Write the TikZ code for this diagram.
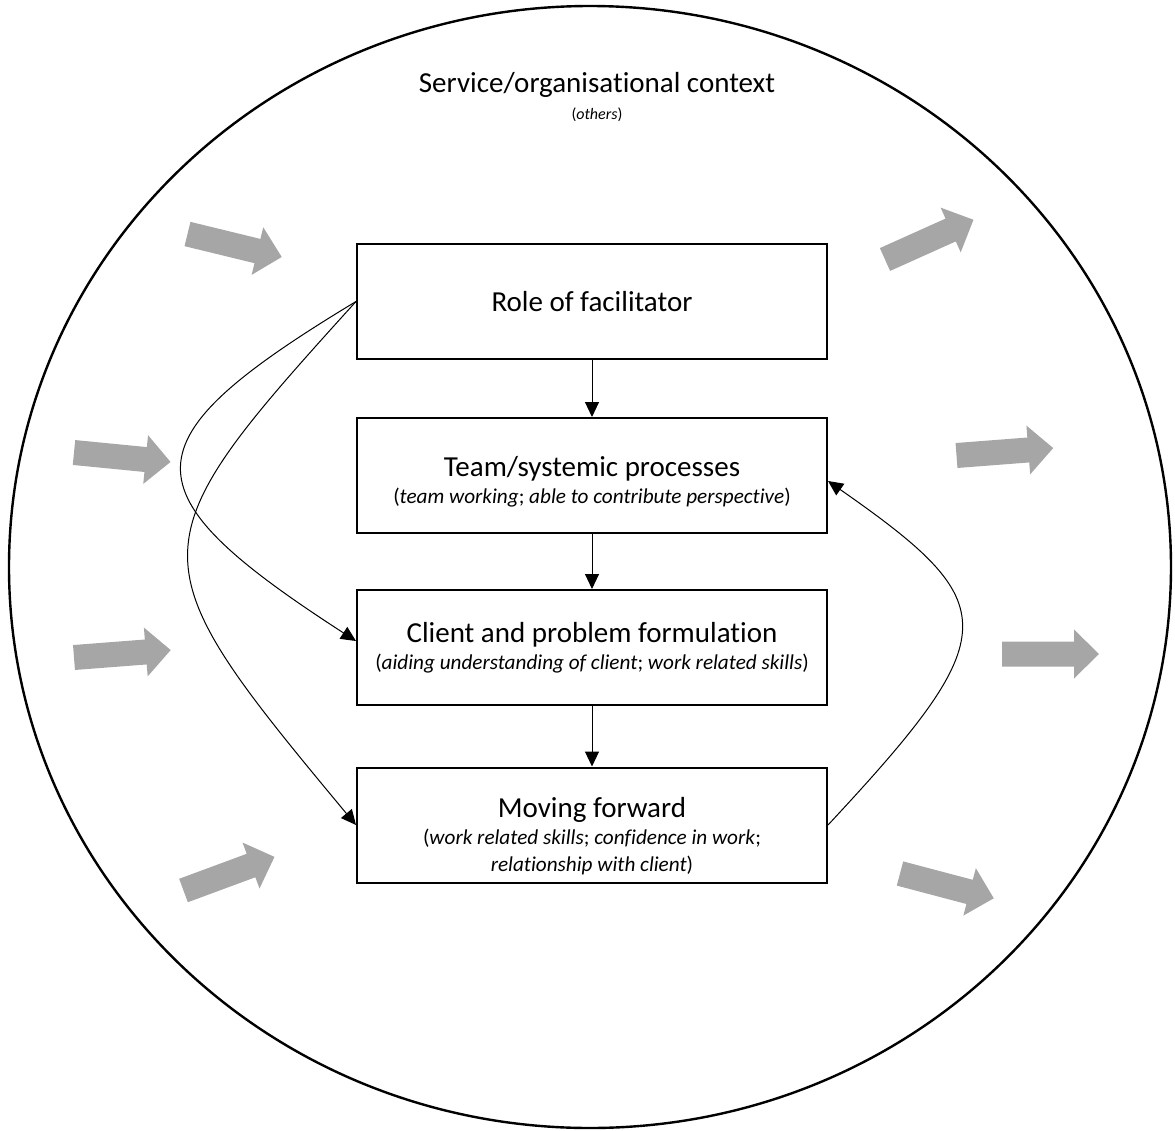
\documentclass[tikz,border=0pt]{standalone}
\usepackage{fontspec}
\setmainfont{Carlito}[Ligatures=NoCommon]
\usetikzlibrary{arrows.meta,calc}

\definecolor{arrowgray}{HTML}{A6A6A6}
\newcommand{\stagetitle}[1]{{\fontsize{14.5}{17}\selectfont #1}}

\tikzset{
  stage/.style={draw, line width=1pt, minimum width=235pt, minimum height=57.5pt,
    align=center, inner sep=2pt, font=\fontsize{10.6}{13.5}\selectfont},
  link/.style={-{Triangle[length=7.5pt,width=7pt]}, line width=0.5pt},
  blockarrow/.pic={\fill [arrowgray] (0,-12.5) -- (72,-12.5) -- (72,-24.5) -- (97,0)
    -- (72,24.5) -- (72,12.5) -- (0,12.5) -- cycle;}
}

\begin{document}
\begin{tikzpicture}[x=0.5pt, y=-0.5pt]
\useasboundingbox (0,0) rectangle (1175,1131);
\draw [line width=1.2pt] (590,567) ellipse [x radius=581, y radius=561];
\node (context) at (597,85) {\stagetitle{Service/organisational context}};
\node (others) at (597,115) {\fontsize{8}{10}\selectfont (\textit{others})};
% stages
\node [stage] (role) at (592,301.5) {\stagetitle{Role of facilitator}};
\node [stage] (team) at (592,475.5) {\stagetitle{\rule{0pt}{16pt}Team/systemic processes}\\
  (\textit{team working}; \textit{able to contribute perspective})};
\node [stage] (client) at (592,647.5) {\stagetitle{Client and problem formulation}\\
  (\textit{aiding understanding of client}; \textit{work related skills})};
\node [stage] (moving) at (592,825) {\stagetitle{\rule{0pt}{21pt}Moving forward}\\
  (\textit{work related skills}; \textit{confidence in work};\\
  \textit{relationship with client})};
% links
\draw [link] (role) -- (team);
\draw [link] (team) -- (client);
\draw [link] (client) -- (moving);
\draw [link] (role.west) .. controls +(-232,140) and +(-232,-150) .. ($(client.west)+(0,-6.5)$);
\draw [link] (role.west) .. controls +(-223,246) and +(-223,-268) .. (moving.west);
\draw [link] (moving.east) .. controls +(179,-192) and +(176,123) .. ($(team.east)+(0,5.5)$);
% influences in and out
\pic [rotate=-13.7] at (187.5,234) {blockarrow};
\pic [rotate=-5.6] at (74,452.5) {blockarrow};
\pic [rotate=4.4] at (74,657.5) {blockarrow};
\pic [rotate=20.3] at (183.5,890.5) {blockarrow};
\pic [rotate=24.2] at (885,259.5) {blockarrow};
\pic [rotate=4.4] at (956.5,455.5) {blockarrow};
\pic at (1002,654) {blockarrow};
\pic [rotate=-14.8] at (900,873.5) {blockarrow};
\end{tikzpicture}
\end{document}
